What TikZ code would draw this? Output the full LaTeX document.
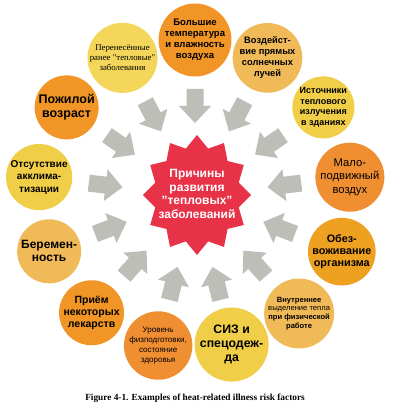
\documentclass[tikz,border=0pt]{standalone}
\usepackage{fontspec}
\setmainfont{Liberation Sans}
\newfontfamily\serifface{Liberation Serif}
\usetikzlibrary{calc}
\definecolor{cyel}{RGB}{240,206,72}
\definecolor{cyelp}{RGB}{243,214,90}
\definecolor{clor}{RGB}{241,186,88}
\definecolor{cor}{RGB}{241,150,38}
\definecolor{corb}{RGB}{240,142,50}
\definecolor{corc}{RGB}{238,160,32}
\definecolor{starred}{RGB}{232,50,72}
\definecolor{arrgray}{RGB}{190,190,184}
\tikzset{
  bub/.style={circle, inner sep=0pt, align=center, text=black},
  blockarrow/.style={fill=arrgray},
}
\newcommand{\fs}[2]{\fontsize{#1}{#2}\selectfont}
\begin{document}
\begin{tikzpicture}[x=1pt,y=-1pt]
\fill[white] (0,0) rectangle (400,409);
\useasboundingbox (0,0) rectangle (400,409);
\coordinate (O) at (195,196);
% arrows
\foreach \k in {0,...,12}{
  \pgfmathsetmacro{\a}{-90+\k*360/13}
  \pgfmathsetmacro{\rot}{-(\a)-180}
  \fill[blockarrow, shift={($(O)+(\a:90)$)}, rotate=\rot]
    (-17,-8.5) -- (0,-8.5) -- (0,-16) -- (17,0) -- (0,16) -- (0,8.5) -- (-17,8.5) -- cycle;
}
% star
\fill[starred] plot[samples=25, domain=0:24, variable=\i]
  ({197+54*(0.9+0.1*cos(180*\i))*sin(15*\i)}, {195-60*(0.9+0.1*cos(180*\i))*cos(15*\i)}) -- cycle;
\node[align=center, text=white, font=\fs{12}{13.5}\bfseries] (star) at (197,194)
  {Причины\\развития\\"тепловых"\\заболеваний};
% bubbles
\node[bub, fill=cor, minimum size=62, font=\fs{9.5}{11}\bfseries] (c0) at ($(O)+(-90:156)$)
  {Большие\\температура\\и влажность\\воздуха};
\node[bub, fill=clor, minimum size=60, font=\fs{9.3}{11}\bfseries] (c1) at ($(O)+(-62.31:156)$)
  {Воздейст-\\вие прямых\\солнечных\\лучей};
\node[bub, fill=cyel, minimum size=62, font=\fs{9}{10.5}\bfseries] (c2) at ($(O)+(-34.62:156)$)
  {Источники\\теплового\\излучения\\в зданиях};
\node[bub, fill=corb, minimum size=63, font=\fs{11.2}{13.3}] (c3) at ($(O)+(-6.92:156)$)
  {Мало-\\подвижный\\воздух};
\node[bub, fill=corc, minimum size=64, font=\fs{10.8}{11.7}\bfseries] (c4) at ($(O)+(20.77:157)$)
  {Обез-\\воживание\\организма};
\node[bub, fill=clor, minimum size=60, font=\fs{7.6}{8.8}] (c5) at ($(O)+(48.46:157)$)
  {\textbf{Внутреннее}\\выделение тепла\\\textbf{при физической}\\\textbf{работе}};
\node[bub, fill=cyel, minimum size=62, font=\fs{12.3}{13.7}\bfseries] (c6) at ($(O)+(76.15:153)$)
  {СИЗ и\\спецодеж-\\да};
\node[bub, fill=corb, minimum size=58, font=\fs{8}{10}] (c7) at ($(O)+(103.85:154)$)
  {Уровень\\физподготовки,\\состояние\\здоровья};
\node[bub, fill=cor, minimum size=61, font=\fs{10.5}{11.7}\bfseries] (c8) at ($(O)+(131.54:156)$)
  {Приём\\некоторых\\лекарств};
\node[bub, fill=clor, minimum size=64, font=\fs{12}{13}\bfseries] (c9) at ($(O)+(159.23:156)$)
  {Беремен-\\ность};
\node[bub, fill=cyel, minimum size=64, font=\fs{10}{12.5}\bfseries] (c10) at ($(O)+(186.92:157)$)
  {Отсутствие\\акклима-\\тизации};
\node[bub, fill=cor, minimum size=64, font=\fs{12.5}{14}\bfseries] (c11) at ($(O)+(214.62:156)$)
  {Пожилой\\возраст};
\node[bub, fill=cyelp, minimum size=66, font=\serifface\fs{8.8}{10}] (c12) at ($(O)+(242.31:156)$)
  {Перенесённые\\ранее "тепловые"\\заболевания};
% caption
\node[font=\serifface\fs{9.3}{11}\bfseries] (cap) at (195,398)
  {Figure 4-1. Examples of heat-related illness risk factors};
\end{tikzpicture}
\end{document}
